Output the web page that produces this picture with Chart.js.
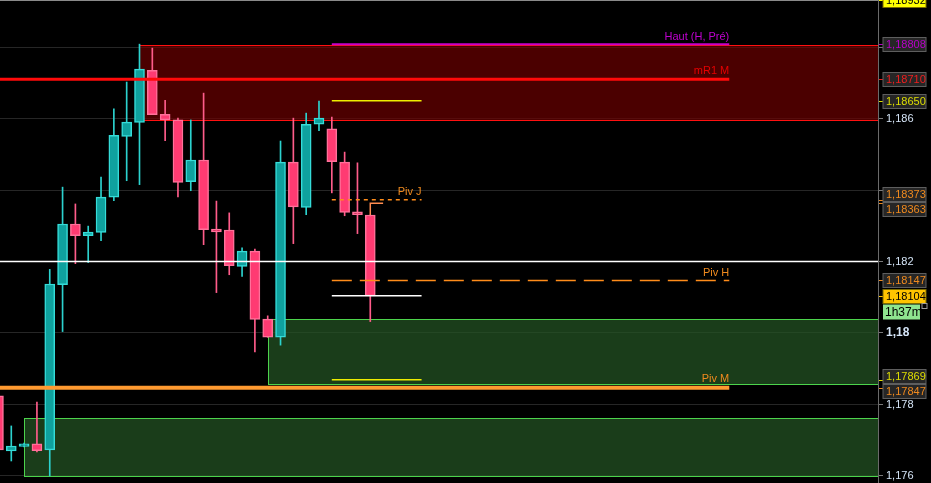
<!DOCTYPE html>
<html lang="fr">
<head>
    <meta charset="UTF-8">
    <title>EUR/USD M5</title>
    <script src="https://cdn.jsdelivr.net/npm/chart.js@4.4.1/dist/chart.umd.min.js"></script>
    <style>
        body {
            margin: 0;
            background-color: #000;
        }
        .chart-box {
            position: relative;
            width: 931px;
            height: 483px;
        }
    </style>
</head>
<body>
    <div class="chart-box">
        <canvas id="priceChart"></canvas>
    </div>

    <script>
        // bougies, de la plus ancienne (index 0) a la derniere
        const opens  = [1.17824, 1.17670, 1.17683, 1.17690, 1.17673, 1.18135, 1.18305, 1.18272, 1.18281, 1.18380,
                        1.18550, 1.18589, 1.18735, 1.18612, 1.18596, 1.18423, 1.18484, 1.18291, 1.18288, 1.18186,
                        1.18229, 1.18039, 1.17988, 1.18478, 1.18351, 1.18584, 1.18571, 1.18478, 1.18339, 1.18330];
        const highs  = [1.17824, 1.17740, 1.17692, 1.17807, 1.18178, 1.18408, 1.18361, 1.18299, 1.18436, 1.18627,
                        1.18702, 1.18808, 1.18797, 1.18651, 1.18601, 1.18596, 1.18671, 1.18369, 1.18336, 1.18238,
                        1.18235, 1.18048, 1.18537, 1.18601, 1.18615, 1.18649, 1.18604, 1.18506, 1.18476, 1.18330];
        const lows   = [1.17673, 1.17642, 1.17681, 1.17667, 1.17600, 1.18004, 1.18194, 1.18197, 1.18258, 1.18370,
                        1.18426, 1.18415, 1.18611, 1.18538, 1.18381, 1.18398, 1.18247, 1.18113, 1.18163, 1.18158,
                        1.17947, 1.17988, 1.17966, 1.18250, 1.18331, 1.18566, 1.18392, 1.18328, 1.18278, 1.18032];
        const closes = [1.17673, 1.17684, 1.17690, 1.17671, 1.18137, 1.18305, 1.18272, 1.18282, 1.18380, 1.18553,
                        1.18590, 1.18738, 1.18611, 1.18596, 1.18421, 1.18484, 1.18289, 1.18283, 1.18188, 1.18229,
                        1.18038, 1.17988, 1.18478, 1.18353, 1.18584, 1.18601, 1.18479, 1.18337, 1.18331, 1.18104];

        // niveaux horizontaux (null = bord du graphique)
        const levelNames  = ['Haut (H, Pré)', 'mR1 M', '', 'Piv J', '', 'Piv H', '', '', 'Piv M'];
        const levelPrices = [1.18808, 1.18710, 1.18650, 1.18373, 1.18200, 1.18147, 1.18104, 1.17869, 1.17847];
        const levelFrom   = [26, null, 26, 26, null, 26, 26, 26, null];
        const levelTo     = [57, 57, 33, 33, null, 57, 33, 33, 57];

        // ouverture du jour (petit crochet sur la derniere bougie)
        const dayOpen = 1.18363;

        // zones
        const zoneTops    = [1.18806, 1.18039, 1.17762];
        const zoneBottoms = [1.18596, 1.17857, 1.17600];
        const zoneFrom    = [11, 21, 2];

        // axe des prix
        const yTicks = [1.176, 1.178, 1.18, 1.182, 1.184, 1.186, 1.188];

        // etiquettes de prix a droite
        const tagPrices = [1.18932, 1.18808, 1.18710, 1.18650, 1.18373, 1.18363, 1.18147, 1.18104, 1.17869, 1.17847];
        const timeLeft = '1h37m';

        const levelStyles = [
            { color: '#c800c8', width: 2 },
            { color: '#ff0a0a', width: 3 },
            { color: '#eeee00', width: 1.5 },
            { color: '#ff8c1a', width: 1.5, dash: [4, 4] },
            { color: '#ffffff', width: 1.5 },
            { color: '#ff8c1a', width: 1.5, dash: [20, 8] },
            { color: '#ffffff', width: 1.5 },
            { color: '#eeee00', width: 1.5 },
            { color: '#ff9a30', width: 4 }
        ];
        const levelTextColors = ['#c000d0', '#e60000', '', '#f08a1e', '', '#f08a1e', '', '', '#f08a1e'];

        const zoneStyles = [
            { fill: 'rgba(110, 0, 0, 0.68)', line: '#ff1010' },
            { fill: 'rgba(36, 84, 36, 0.72)', line: '#4cd44c' },
            { fill: 'rgba(36, 84, 36, 0.72)', line: '#4cd44c' }
        ];

        const tagStyles = [
            { bg: '#ffff00', fg: '#000' },
            { fg: '#b800c8' },
            { fg: '#f01e1e' },
            { fg: '#dede00' },
            { fg: '#f08a1e' },
            { fg: '#f08a1e' },
            { fg: '#f08a1e' },
            { bg: '#ffc400', fg: '#000' },
            { fg: '#dede00' },
            { fg: '#f08a1e' }
        ];
        const CURRENT_TAG = 7;

        const UP_FILL = '#0fa19e', UP_LINE = '#35dcd8', UP_WICK = '#2cd2ce';
        const DN_FILL = '#ff3b72', DN_LINE = '#ff719a', DN_WICK = '#ff5c8a';

        const xMin = 0.12, xMax = 68.6;
        const yMin = 1.175804, yMax = 1.189315;

        const fmtPrice = v => v.toFixed(5).replace('.', ',');

        const idx = opens.map((_, i) => i);
        const isUp = idx.map(i => closes[i] >= opens[i]);

        const levelDatasets = levelPrices.map((p, i) => ({
            type: 'line',
            label: levelNames[i] || fmtPrice(p),
            data: [
                { x: levelFrom[i] === null ? xMin : levelFrom[i], y: p },
                { x: levelTo[i] === null ? xMax : levelTo[i], y: p }
            ],
            borderColor: levelStyles[i].color,
            borderWidth: levelStyles[i].width,
            borderDash: levelStyles[i].dash || [],
            borderCapStyle: 'butt',
            pointRadius: 0,
            fill: false,
            order: 0
        }));

        const last = opens.length - 1;
        const bracketDataset = {
            type: 'line',
            label: 'ouverture',
            data: [
                { x: last, y: opens[last] },
                { x: last, y: dayOpen },
                { x: last + 1, y: dayOpen }
            ],
            borderColor: '#ff8c50',
            borderWidth: 1.5,
            pointRadius: 0,
            fill: false,
            order: 0
        };

        const zonesPlugin = {
            id: 'zones',
            beforeDatasetsDraw(chart) {
                const { ctx, chartArea, scales: { x, y } } = chart;
                ctx.save();
                ctx.beginPath();
                ctx.rect(chartArea.left, chartArea.top, chartArea.width, chartArea.height);
                ctx.clip();
                zoneTops.forEach((top, i) => {
                    const x0 = Math.round(x.getPixelForValue(zoneFrom[i])) + 0.5;
                    const x1 = chartArea.right + 2;
                    const y0 = Math.round(y.getPixelForValue(top)) + 0.5;
                    const y1 = Math.round(y.getPixelForValue(zoneBottoms[i])) + 0.5;
                    ctx.fillStyle = zoneStyles[i].fill;
                    ctx.fillRect(x0, y0, x1 - x0, y1 - y0);
                    ctx.strokeStyle = zoneStyles[i].line;
                    ctx.lineWidth = 1;
                    ctx.strokeRect(x0, y0, x1 - x0, y1 - y0);
                });
                ctx.restore();
            }
        };

        const levelTextPlugin = {
            id: 'levelText',
            afterDatasetsDraw(chart) {
                const { ctx, scales: { x, y } } = chart;
                ctx.save();
                ctx.font = '11px "Liberation Sans", Arial, sans-serif';
                ctx.textAlign = 'right';
                ctx.textBaseline = 'bottom';
                levelNames.forEach((name, i) => {
                    if (!name) return;
                    const px = x.getPixelForValue(levelTo[i]);
                    const py = y.getPixelForValue(levelPrices[i]) - levelStyles[i].width / 2 - 1;
                    ctx.fillStyle = levelTextColors[i];
                    ctx.fillText(name, px, py);
                });
                ctx.restore();
            }
        };

        const tagsPlugin = {
            id: 'priceTags',
            afterDraw(chart) {
                const { ctx, chartArea, scales: { y } } = chart;
                const h = 14, gap = 1, left = 883, w = 43;

                // trait gris en haut
                ctx.save();
                ctx.strokeStyle = '#8a8a8a';
                ctx.lineWidth = 1;
                ctx.beginPath();
                ctx.moveTo(0, 0.5);
                ctx.lineTo(chartArea.right, 0.5);
                ctx.stroke();

                const tags = tagPrices.map((p, i) => ({ i, p, yv: y.getPixelForValue(p), yc: y.getPixelForValue(p) }));
                tags.sort((a, b) => a.yv - b.yv);
                // ecarter les etiquettes qui se chevauchent
                for (let pass = 0; pass < 5; pass++) {
                    for (let k = 1; k < tags.length; k++) {
                        const a = tags[k - 1], b = tags[k];
                        if (b.yc - a.yc < h + gap) {
                            const m = (a.yc + b.yc) / 2;
                            a.yc = m - (h + gap) / 2;
                            b.yc = m + (h + gap) / 2;
                        }
                    }
                }

                ctx.font = '11px "Liberation Sans", Arial, sans-serif';
                ctx.textBaseline = 'middle';
                ctx.textAlign = 'left';
                tags.forEach(t => {
                    const st = tagStyles[t.i];
                    // petit repere sur l'axe
                    ctx.strokeStyle = st.bg || st.fg;
                    ctx.lineWidth = 1;
                    ctx.beginPath();
                    ctx.moveTo(chartArea.right + 1, Math.round(t.yv) + 0.5);
                    ctx.lineTo(chartArea.right + 5, Math.round(t.yv) + 0.5);
                    ctx.stroke();

                    const top = Math.round(t.yc - h / 2) + 0.5;
                    ctx.fillStyle = st.bg || '#262626';
                    ctx.fillRect(left, top, w, h);
                    ctx.strokeStyle = st.bg ? '#7a6a00' : '#5e5e5e';
                    ctx.strokeRect(left, top, w, h);
                    ctx.fillStyle = st.fg;
                    ctx.fillText(fmtPrice(t.p), left + 3, top + h / 2 + 0.5);

                    if (t.i === CURRENT_TAG) {
                        const t2 = top + h + 1;
                        ctx.fillStyle = '#8fe58f';
                        ctx.fillRect(left, t2, 37, h + 1);
                        ctx.fillStyle = '#000';
                        ctx.font = '12px "Liberation Sans", Arial, sans-serif';
                        ctx.fillText(timeLeft, left + 2, t2 + h / 2 + 1);
                        ctx.font = '11px "Liberation Sans", Arial, sans-serif';
                        ctx.strokeStyle = '#9a9a9a';
                        ctx.strokeRect(left + 39, t2 - 1, 5, 5);
                    }
                });
                ctx.restore();
            }
        };

        // les graduations masquees par une etiquette de prix ne sont pas ecrites
        const hiddenByTag = v => tagPrices.some(p => Math.abs(p - v) < 0.0004);

        const ctx = document.getElementById('priceChart').getContext('2d');
        new Chart(ctx, {
            type: 'bar',
            data: {
                datasets: [
                    {
                        label: 'corps',
                        data: idx.map(i => ({ x: i, y: [opens[i], closes[i]] })),
                        backgroundColor: isUp.map(u => u ? UP_FILL : DN_FILL),
                        borderColor: isUp.map(u => u ? UP_LINE : DN_LINE),
                        borderWidth: 1.5,
                        borderSkipped: false,
                        barThickness: 10,
                        grouped: false,
                        order: 1
                    },
                    {
                        label: 'meches',
                        data: idx.map(i => ({ x: i, y: [lows[i], highs[i]] })),
                        backgroundColor: isUp.map(u => u ? UP_WICK : DN_WICK),
                        borderWidth: 0,
                        barThickness: 1,
                        grouped: false,
                        order: 2
                    },
                    ...levelDatasets,
                    bracketDataset
                ]
            },
            options: {
                animation: false,
                responsive: true,
                maintainAspectRatio: false,
                layout: { padding: 0 },
                plugins: {
                    legend: { display: false },
                    tooltip: { enabled: false }
                },
                scales: {
                    x: {
                        type: 'linear',
                        min: xMin,
                        max: xMax,
                        offset: false,
                        display: false
                    },
                    y: {
                        position: 'right',
                        min: yMin,
                        max: yMax,
                        afterBuildTicks: scale => {
                            scale.ticks = yTicks.map(v => ({ value: v }));
                        },
                        afterFit: scale => {
                            scale.width = 53;
                            scale.paddingTop = 0;
                            scale.paddingBottom = 0;
                        },
                        grid: {
                            color: '#262626',
                            tickColor: '#7a7a7a',
                            tickLength: 5
                        },
                        border: { color: '#6a6a6a' },
                        ticks: {
                            color: '#d5e5f7',
                            padding: 3,
                            font: c => (c.tick && Math.abs(c.tick.value - 1.18) < 1e-9)
                                ? { family: '"Liberation Sans", Arial, sans-serif', size: 12, weight: 'bold' }
                                : { family: '"Liberation Sans", Arial, sans-serif', size: 11 },
                            callback: v => hiddenByTag(v) ? '' : v.toFixed(3).replace(/0+$/, '').replace('.', ',')
                        }
                    }
                }
            },
            plugins: [zonesPlugin, levelTextPlugin, tagsPlugin]
        });
    </script>
</body>
</html>
